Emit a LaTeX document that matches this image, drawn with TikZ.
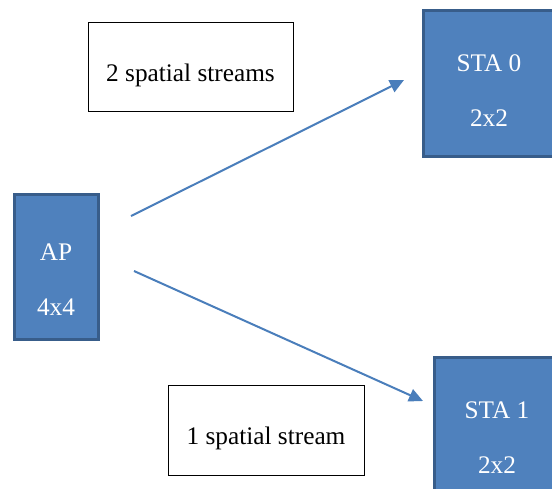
\documentclass[tikz,border=0pt]{standalone}
\usepackage{fontspec}
\setmainfont{Liberation Serif}
\usetikzlibrary{arrows.meta,positioning,calc}
\definecolor{stabox}{RGB}{79,129,189}
\definecolor{staedge}{RGB}{56,93,138}
\definecolor{flux}{RGB}{74,126,187}

\begin{document}
\begin{tikzpicture}[x=1pt, y=-1pt,
  st/.style={rectangle, draw=staedge, line width=3pt, fill=stabox, inner sep=0pt},
  sttx/.style={text=white, align=center, inner sep=0pt, font=\fontsize{25.3}{55}\selectfont},
  lbl/.style={rectangle, draw=black, line width=0.8pt, fill=white, inner sep=0pt,
    text height=35pt, text depth=5.5pt, font=\fontsize{25.3}{30}\selectfont},
  tr/.style={-{Triangle[length=14pt,width=13pt]}, line width=2pt, flux}
]
  \clip (0,0) rectangle (552,488);
  \useasboundingbox (0,0) rectangle (552,488);

  % stations
  \node[st, minimum width=84pt, minimum height=145pt]  (ap)   at (56,266.5) {};
  \node[st, minimum width=132pt, minimum height=146pt] (sta0) at (489,83)  {};
  \node[st, minimum width=126pt, minimum height=146pt] (sta1) at (497,430) {};
  \node[sttx] (aptx)   at ([yshift=-13pt]ap.center)   {AP\\4x4};
  \node[sttx] (sta0tx) at ([yshift=-8pt]sta0.center)  {STA 0\\2x2};
  \node[sttx] (sta1tx) at ([yshift=-8pt]sta1.center)  {STA 1\\2x2};

  % flux
  \node[lbl, minimum width=205pt, minimum height=89pt] (dual)   at (190.5,66.5) {2 spatial streams};
  \node[lbl, minimum width=196pt, minimum height=90pt] (single) at (266,430)   {1 spatial stream};

  \coordinate (haut0) at (131,216);
  \coordinate (haut1) at (404,80);
  \coordinate (bas0)  at (134,271);
  \coordinate (bas1)  at (423,401);

  \draw[tr] (haut0) -- (haut1);
  \draw[tr] (bas0)  -- (bas1);
\end{tikzpicture}
\end{document}
